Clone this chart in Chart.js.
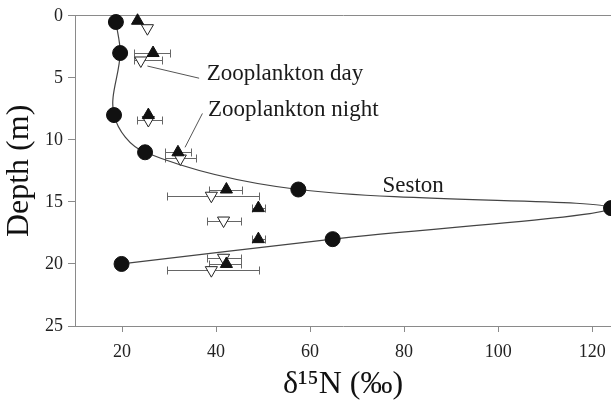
<!DOCTYPE html>
<html>
<head>
<meta charset="utf-8">
<script src="https://cdn.jsdelivr.net/npm/chart.js@4/dist/chart.umd.min.js"></script>
<style>
  html, body { margin: 0; padding: 0; background: #fff; }
  #wrap { width: 611px; height: 407px; }
</style>
</head>
<body>
<div id="wrap"><canvas id="profile"></canvas></div>
<script>
// seston d15N against depth (m)
const sestonDepth = [0.5, 3, 8, 11, 14, 15.5, 18, 20];
const sestonN     = [18.7, 19.6, 18.3, 24.9, 57.5, 124, 64.8, 19.9];

// zooplankton at night: mean and range
const nightDepth = [0.4, 3, 8, 11, 14, 15.5, 18, 20];
const nightN     = [23.3, 26.6, 25.6, 31.9, 42.2, 49.0, 49.0, 42.2];
const nightLo    = [null, 22.5, null, 29.1, 38.5, 47.7, 47.6, 38.4];
const nightHi    = [null, 30.2, null, 34.6, 45.6, 50.5, 50.4, 45.3];

// zooplankton by day
const dayDepth = [1, 3.6, 8.4, 11.5, 14.5, 16.5, 19.5, 20.5];
const dayN     = [25.4, 24.0, 25.6, 32.4, 39.0, 41.6, 41.6, 39.0];
const dayLo    = [null, 22.5, 23.2, 29.1, 29.6, 38.1, 38.1, 29.6];
const dayHi    = [null, 28.4, 28.4, 35.7, 49.1, 45.2, 45.2, 49.1];

const xTicks = [20, 40, 60, 80, 100, 120];

const serif = "'Liberation Serif', 'Times New Roman', serif";
const axisGrey = '#8a8a8a';

const pts = (xs, ys) => xs.map((v, i) => ({ x: v, y: ys[i] }));

// horizontal range bars with end caps, drawn under the markers
const errorBars = {
  id: 'errorBars',
  beforeDatasetsDraw(chart) {
    const { ctx, scales: { x, y } } = chart;
    ctx.save();
    ctx.strokeStyle = '#666';
    ctx.lineWidth = 1;
    chart.data.datasets.forEach(ds => {
      if (!ds.errLo) return;
      ds.data.forEach((p, i) => {
        const lo = ds.errLo[i], hi = ds.errHi[i];
        if (lo == null) return;
        const py = Math.round(y.getPixelForValue(p.y)) + 0.5;
        const x0 = Math.round(x.getPixelForValue(lo)) + 0.5;
        const x1 = Math.round(x.getPixelForValue(hi)) + 0.5;
        ctx.beginPath();
        ctx.moveTo(x0, py); ctx.lineTo(x1, py);
        ctx.moveTo(x0, py - 4); ctx.lineTo(x0, py + 4);
        ctx.moveTo(x1, py - 4); ctx.lineTo(x1, py + 4);
        ctx.stroke();
      });
    });
    ctx.restore();
  }
};

// series names with leader lines
const notes = [
  { text: 'Zooplankton day',   at: [38.0, 5.15], from: [25.4, 4.05], to: [36.4, 5.03] },
  { text: 'Zooplankton night', at: [38.3, 8.1],  from: [33.4, 10.6], to: [37.1, 7.87] },
  { text: 'Seston',            at: [75.4, 14.2] }
];

const seriesNotes = {
  id: 'seriesNotes',
  afterDatasetsDraw(chart) {
    const { ctx, scales: { x, y } } = chart;
    ctx.save();
    ctx.strokeStyle = '#555';
    ctx.lineWidth = 1;
    ctx.fillStyle = '#1a1a1a';
    ctx.font = '23px ' + serif;
    ctx.textBaseline = 'alphabetic';
    notes.forEach(n => {
      if (n.from) {
        ctx.beginPath();
        ctx.moveTo(x.getPixelForValue(n.from[0]), y.getPixelForValue(n.from[1]));
        ctx.lineTo(x.getPixelForValue(n.to[0]), y.getPixelForValue(n.to[1]));
        ctx.stroke();
      }
      ctx.fillText(n.text, x.getPixelForValue(n.at[0]), y.getPixelForValue(n.at[1]));
    });
    ctx.restore();
  }
};

new Chart(document.getElementById('profile'), {
  type: 'scatter',
  data: {
    datasets: [
      {
        label: 'Zooplankton night',
        data: pts(nightN, nightDepth),
        errLo: nightLo, errHi: nightHi,
        pointStyle: 'triangle',
        pointRadius: 7,
        backgroundColor: '#111',
        borderColor: '#111',
        borderWidth: 1,
        clip: false
      },
      {
        label: 'Zooplankton day',
        data: pts(dayN, dayDepth),
        errLo: dayLo, errHi: dayHi,
        pointStyle: 'triangle',
        rotation: 180,
        pointRadius: 7,
        backgroundColor: '#fff',
        borderColor: '#222',
        borderWidth: 1,
        clip: false
      },
      {
        label: 'Seston',
        data: pts(sestonN, sestonDepth),
        showLine: true,
        tension: 0.35,
        borderColor: '#444',
        borderWidth: 1.2,
        pointRadius: 7.5,
        pointBackgroundColor: '#111',
        pointBorderColor: '#111',
        pointBorderWidth: 1,
        clip: false
      }
    ]
  },
  options: {
    responsive: true,
    maintainAspectRatio: false,
    animation: false,
    layout: { autoPadding: false, padding: { top: 12, right: 0, left: 0, bottom: 0 } },
    plugins: {
      legend: { display: false },
      tooltip: { enabled: false }
    },
    scales: {
      x: {
        type: 'linear',
        min: 10,
        max: 124,
        afterBuildTicks: s => { s.ticks = xTicks.map(v => ({ value: v })); },
        // plot runs right up to the canvas edge
        afterFit: s => { s.height = 81; s.paddingLeft = 0; s.paddingRight = 0; },
        grid: { drawOnChartArea: false, tickLength: 6, color: axisGrey },
        border: { color: axisGrey },
        ticks: { padding: 9, color: '#222', font: { family: serif, size: 18 } },
        title: {
          display: true,
          text: 'δ¹⁵N (‰)',
          color: '#111',
          font: { family: serif, size: 32, lineHeight: 1.2 },
          padding: { top: 0, bottom: 3 }
        }
      },
      top: {
        axis: 'x',
        type: 'linear',
        position: 'top',
        min: 10,
        max: 124,
        afterFit: s => { s.height = 0; s.paddingLeft = 0; s.paddingRight = 0; },
        grid: { display: false },
        border: { color: axisGrey },
        ticks: { display: false }
      },
      y: {
        type: 'linear',
        reverse: true,
        min: 0,
        max: 25,
        afterFit: s => { s.width = 75; },
        grid: { drawOnChartArea: false, tickLength: 7, color: axisGrey },
        border: { color: axisGrey },
        ticks: { stepSize: 5, padding: 5, color: '#222', font: { family: serif, size: 18 } },
        title: {
          display: true,
          text: 'Depth (m)',
          color: '#111',
          font: { family: serif, size: 32, lineHeight: 1.25 },
          padding: { top: 0, bottom: 0 }
        }
      }
    }
  },
  plugins: [errorBars, seriesNotes]
});
</script>
</body>
</html>
